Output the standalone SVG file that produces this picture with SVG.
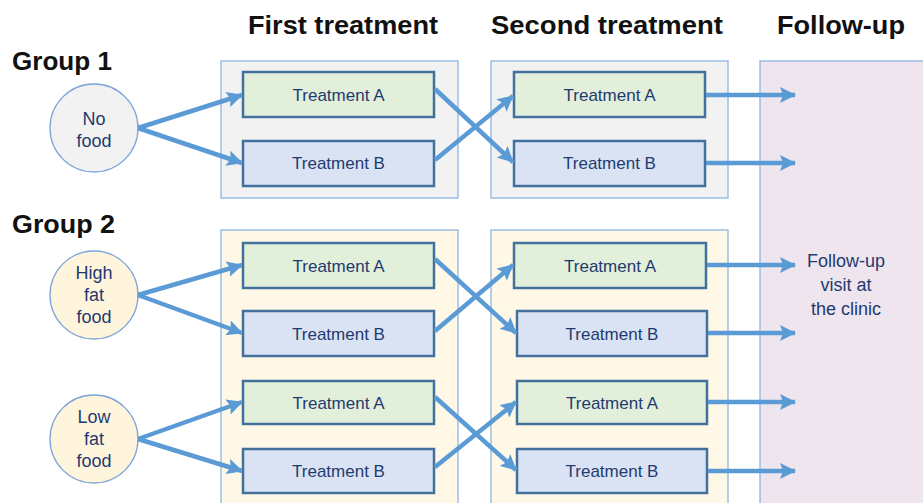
<svg xmlns="http://www.w3.org/2000/svg" width="923" height="503" viewBox="0 0 923 503">
<defs>
<marker id="ah" markerUnits="userSpaceOnUse" markerWidth="16" markerHeight="16" viewBox="0 0 16 16" refX="15" refY="8" orient="auto">
<path d="M0,0 L16,8 L0,16 L3,8 Z" fill="#5b9bd5"/>
</marker>
</defs>
<style>
.hdr{font-family:"Liberation Sans",Arial,sans-serif;font-weight:bold;font-size:25px;fill:#111}
.lbl{font-family:"Liberation Sans",Arial,sans-serif;font-size:17px;fill:#1f3a70;text-anchor:middle}
.cir{font-family:"Liberation Sans",Arial,sans-serif;font-size:18px;fill:#1f3a70;text-anchor:middle}
.box{stroke:#41719c;stroke-width:2.5}
.ba{fill:#e2efda}
.bb{fill:#dae3f3}
.cont{stroke:#8eb4e3;stroke-width:1.3}
.con{stroke:#5b9bd5;stroke-width:4.5;fill:none;marker-end:url(#ah)}
</style>
<rect width="923" height="503" fill="#ffffff"/>
<g id="headers">
<text class="hdr" x="248" y="34" textLength="190" lengthAdjust="spacingAndGlyphs">First treatment</text>
<text class="hdr" x="491" y="34" textLength="232" lengthAdjust="spacingAndGlyphs">Second treatment</text>
<text class="hdr" x="777" y="34" textLength="128" lengthAdjust="spacingAndGlyphs">Follow-up</text>
<text class="hdr" x="12" y="70" textLength="100" lengthAdjust="spacingAndGlyphs">Group 1</text>
<text class="hdr" x="12" y="233" textLength="103" lengthAdjust="spacingAndGlyphs">Group 2</text>
</g>
<g id="containers">
<rect class="cont" x="221" y="61" width="237" height="137" fill="#f2f2f2"/>
<rect class="cont" x="491" y="61" width="237" height="137" fill="#f2f2f2"/>
<rect class="cont" x="221" y="230" width="237" height="280" fill="#fff8e7"/>
<rect class="cont" x="491" y="230" width="237" height="280" fill="#fff8e7"/>
<rect class="cont" x="760" y="61" width="170" height="450" fill="#efe5ee"/>
</g>
<g id="followup">
<text class="cir" x="846" y="267">Follow-up</text>
<text class="cir" x="846" y="291">visit at</text>
<text class="cir" x="846" y="315">the clinic</text>
</g>
<g id="c-nofood">
<circle cx="94" cy="128" r="44" fill="#f2f2f2" stroke="#7ea6d8" stroke-width="1.3"/>
<text class="cir" x="94" y="125">No</text>
<text class="cir" x="94" y="147">food</text>
</g>
<g id="c-high">
<circle cx="94" cy="295" r="44" fill="#fff5dc" stroke="#7ea6d8" stroke-width="1.3"/>
<text class="cir" x="94" y="279">High</text>
<text class="cir" x="94" y="301">fat</text>
<text class="cir" x="94" y="323">food</text>
</g>
<g id="c-low">
<circle cx="94" cy="439" r="44" fill="#fff5dc" stroke="#7ea6d8" stroke-width="1.3"/>
<text class="cir" x="94" y="423">Low</text>
<text class="cir" x="94" y="445">fat</text>
<text class="cir" x="94" y="467">food</text>
</g>
<g id="g1-f-a"><rect class="box ba" x="243" y="72" width="191" height="45"/><text class="lbl" x="338.5" y="100.5">Treatment A</text></g>
<g id="g1-f-b"><rect class="box bb" x="243" y="141" width="191" height="45"/><text class="lbl" x="338.5" y="169">Treatment B</text></g>
<g id="g1-s-a"><rect class="box ba" x="514" y="72" width="191" height="45"/><text class="lbl" x="609.5" y="100.5">Treatment A</text></g>
<g id="g1-s-b"><rect class="box bb" x="514" y="141" width="191" height="45"/><text class="lbl" x="609.5" y="169">Treatment B</text></g>
<g id="g2h-f-a"><rect class="box ba" x="243" y="243" width="191" height="45"/><text class="lbl" x="338.5" y="271.5">Treatment A</text></g>
<g id="g2h-f-b"><rect class="box bb" x="243" y="311" width="191" height="45"/><text class="lbl" x="338.5" y="339.5">Treatment B</text></g>
<g id="g2l-f-a"><rect class="box ba" x="243" y="381" width="191" height="43"/><text class="lbl" x="338.5" y="408.5">Treatment A</text></g>
<g id="g2l-f-b"><rect class="box bb" x="243" y="449" width="191" height="44"/><text class="lbl" x="338.5" y="477">Treatment B</text></g>
<g id="g2h-s-a"><rect class="box ba" x="514" y="243" width="192" height="45"/><text class="lbl" x="610" y="271.5">Treatment A</text></g>
<g id="g2h-s-b"><rect class="box bb" x="517" y="311" width="190" height="45"/><text class="lbl" x="612" y="339.5">Treatment B</text></g>
<g id="g2l-s-a"><rect class="box ba" x="517" y="381" width="190" height="43"/><text class="lbl" x="612" y="408.5">Treatment A</text></g>
<g id="g2l-s-b"><rect class="box bb" x="517" y="449" width="190" height="44"/><text class="lbl" x="612" y="477">Treatment B</text></g>
<g id="connectors">
<line class="con" x1="138" y1="128" x2="242" y2="95"/>
<line class="con" x1="138" y1="128" x2="242" y2="163"/>
<line class="con" x1="138" y1="295" x2="242" y2="265"/>
<line class="con" x1="138" y1="295" x2="242" y2="333"/>
<line class="con" x1="138" y1="439" x2="242" y2="402"/>
<line class="con" x1="138" y1="439" x2="242" y2="471"/>
<line class="con" x1="435" y1="89" x2="513" y2="162"/>
<line class="con" x1="435" y1="160" x2="513" y2="96"/>
<line class="con" x1="435" y1="259" x2="516" y2="333"/>
<line class="con" x1="435" y1="331" x2="513" y2="265"/>
<line class="con" x1="435" y1="397" x2="516" y2="470"/>
<line class="con" x1="435" y1="467" x2="516" y2="402"/>
<line class="con" x1="706" y1="95" x2="795" y2="95"/>
<line class="con" x1="706" y1="163" x2="795" y2="163"/>
<line class="con" x1="707" y1="265" x2="795" y2="265"/>
<line class="con" x1="708" y1="333" x2="795" y2="333"/>
<line class="con" x1="708" y1="402" x2="795" y2="402"/>
<line class="con" x1="708" y1="471" x2="795" y2="471"/>
</g>
</svg>
